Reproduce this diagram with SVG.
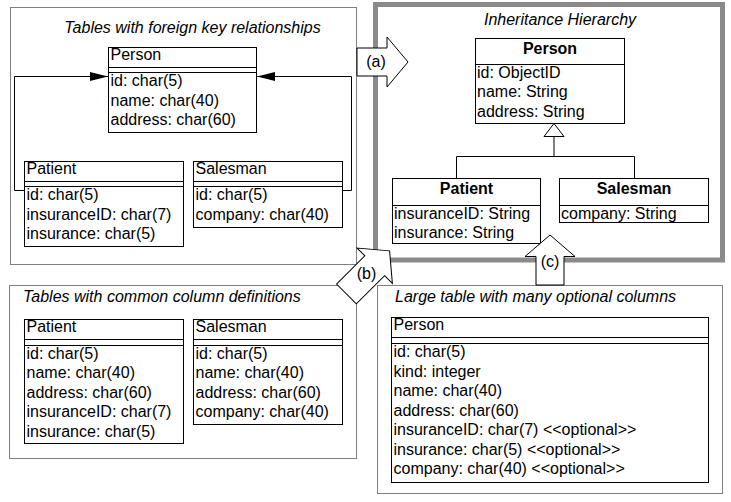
<svg xmlns="http://www.w3.org/2000/svg" width="731" height="502" viewBox="0 0 731 502">
<style>
text{font-family:"Liberation Sans",Arial,Helvetica,sans-serif;font-size:16px;fill:#000}
.ttl{font-style:italic}
.b{font-weight:bold}
.m{text-anchor:middle}
.panel{fill:none;stroke:#808080;stroke-width:1}
.box{fill:#fff;stroke:#000;stroke-width:1}
.ln{fill:none;stroke:#000;stroke-width:1}
.blk{fill:#fff;stroke:#000;stroke-width:1;stroke-linejoin:miter}
</style>
<defs>
<marker id="fa" viewBox="0 0 18 9" refX="18" refY="4.5" markerWidth="18" markerHeight="9" orient="auto" markerUnits="userSpaceOnUse">
<path d="M0,0 L18,4.5 L0,9 z" fill="#000"/>
</marker>
</defs>
<rect width="731" height="502" fill="#fff"/>

<!-- Panel: foreign keys -->
<g id="panel-fk">
<rect class="panel" x="10.5" y="7.5" width="346" height="257"/>
<text class="ttl m" x="192.5" y="33">Tables with foreign key relationships</text>
</g>
<g id="fk-person">
<rect class="box" x="108.5" y="47.5" width="148" height="85"/>
<path class="ln" d="M108.5,67.5H256.5M108.5,72.5H256.5"/>
<text x="110.5" y="60">Person</text>
<text x="110.5" y="86">id: char(5)</text>
<text x="110.5" y="105.5">name: char(40)</text>
<text x="110.5" y="125">address: char(60)</text>
</g>
<g id="fk-patient">
<rect class="box" x="24.5" y="161.5" width="159" height="85"/>
<path class="ln" d="M24.5,181.5H183.5M24.5,186.5H183.5"/>
<text x="26.5" y="174">Patient</text>
<text x="26.5" y="200">id: char(5)</text>
<text x="26.5" y="219.5">insuranceID: char(7)</text>
<text x="26.5" y="239">insurance: char(5)</text>
</g>
<g id="fk-salesman">
<rect class="box" x="193.5" y="161.5" width="149" height="66"/>
<path class="ln" d="M193.5,181.5H342.5M193.5,186.5H342.5"/>
<text x="195.5" y="174">Salesman</text>
<text x="195.5" y="200">id: char(5)</text>
<text x="195.5" y="219.5">company: char(40)</text>
</g>

<!-- Panel: inheritance -->
<g id="panel-inh">
<rect x="375.5" y="4.5" width="347" height="255.5" fill="none" stroke="#8a8a8a" stroke-width="5"/>
<text class="ttl m" x="560" y="25">Inheritance Hierarchy</text>
</g>
<g id="inh-person">
<rect class="box" x="475.5" y="38.5" width="149" height="85"/>
<path class="ln" d="M475.5,64.5H624.5"/>
<text class="b m" x="550" y="53.5">Person</text>
<text x="477" y="77.5">id: ObjectID</text>
<text x="477" y="97">name: String</text>
<text x="477" y="116.5">address: String</text>
</g>
<g id="inh-patient">
<rect class="box" x="392.5" y="178.5" width="148" height="65"/>
<path class="ln" d="M392.5,205.5H540.5"/>
<text class="b m" x="466.5" y="194">Patient</text>
<text x="394" y="219">insuranceID: String</text>
<text x="394" y="238">insurance: String</text>
</g>
<g id="inh-salesman">
<rect class="box" x="559.5" y="178.5" width="149" height="44"/>
<path class="ln" d="M559.5,205.5H708.5"/>
<text class="b m" x="634" y="194">Salesman</text>
<text x="561" y="219">company: String</text>
</g>

<!-- Panel: common columns -->
<g id="panel-common">
<rect class="panel" x="9.5" y="285.5" width="347" height="173"/>
<text class="ttl" x="23" y="301.5">Tables with common column definitions</text>
</g>
<g id="cc-patient">
<rect class="box" x="24.5" y="319.5" width="159" height="124"/>
<path class="ln" d="M24.5,339.5H183.5M24.5,345.5H183.5"/>
<text x="26.5" y="332">Patient</text>
<text x="26.5" y="358.5">id: char(5)</text>
<text x="26.5" y="378">name: char(40)</text>
<text x="26.5" y="397.5">address: char(60)</text>
<text x="26.5" y="417">insuranceID: char(7)</text>
<text x="26.5" y="436.5">insurance: char(5)</text>
</g>
<g id="cc-salesman">
<rect class="box" x="193.5" y="319.5" width="149" height="105"/>
<path class="ln" d="M193.5,339.5H342.5M193.5,345.5H342.5"/>
<text x="195.5" y="332">Salesman</text>
<text x="195.5" y="358.5">id: char(5)</text>
<text x="195.5" y="378">name: char(40)</text>
<text x="195.5" y="397.5">address: char(60)</text>
<text x="195.5" y="417">company: char(40)</text>
</g>

<!-- Panel: large table -->
<g id="panel-large">
<rect class="panel" x="377.5" y="285.5" width="345" height="208"/>
<text class="ttl" x="395" y="302">Large table with many optional columns</text>
</g>
<g id="lt-person">
<rect class="box" x="391.5" y="317.5" width="317" height="165"/>
<path class="ln" d="M391.5,337.5H708.5M391.5,343.5H708.5"/>
<text x="393.5" y="330">Person</text>
<text x="393.5" y="357">id: char(5)</text>
<text x="393.5" y="376.5">kind: integer</text>
<text x="393.5" y="396">name: char(40)</text>
<text x="393.5" y="415.5">address: char(60)</text>
<text x="393.5" y="435">insuranceID: char(7) &lt;&lt;optional&gt;&gt;</text>
<text x="393.5" y="454.5">insurance: char(5) &lt;&lt;optional&gt;&gt;</text>
<text x="393.5" y="474">company: char(40) &lt;&lt;optional&gt;&gt;</text>
</g>

<!-- Connectors -->
<g id="connectors">
<polyline class="ln" points="24.5,190.5 14.5,190.5 14.5,76.5 108,76.5" marker-end="url(#fa)"/>
<polyline class="ln" points="342.5,190.5 351.5,190.5 351.5,76.5 257,76.5" marker-end="url(#fa)"/>
<path class="ln" d="M554,136.5V156.5M456.5,156.5H634.5M456.5,156.5V178.5M634.5,156.5V178.5"/>
<polygon class="blk" points="554,123.5 544,136.5 564,136.5"/>
<g id="arrow-a">
<polygon class="blk" points="357,48 387,48 387,37 408,62 387,87 387,76 357,76"/>
<text class="m" x="376" y="66.5">(a)</text>
</g>
<g id="arrow-b">
<polygon class="blk" transform="translate(353.5,286.9) rotate(-45)" points="-10,-14 30,-14 30,-25 51,0 30,25 30,14 -10,14"/>
<text class="m" x="366.5" y="279">(b)</text>
</g>
<g id="arrow-c">
<polygon class="blk" points="536,285 536,256.5 525,256.5 550,235 575,256.5 564,256.5 564,285"/>
<text class="m" x="550" y="267">(c)</text>
</g>
</g>
</svg>
